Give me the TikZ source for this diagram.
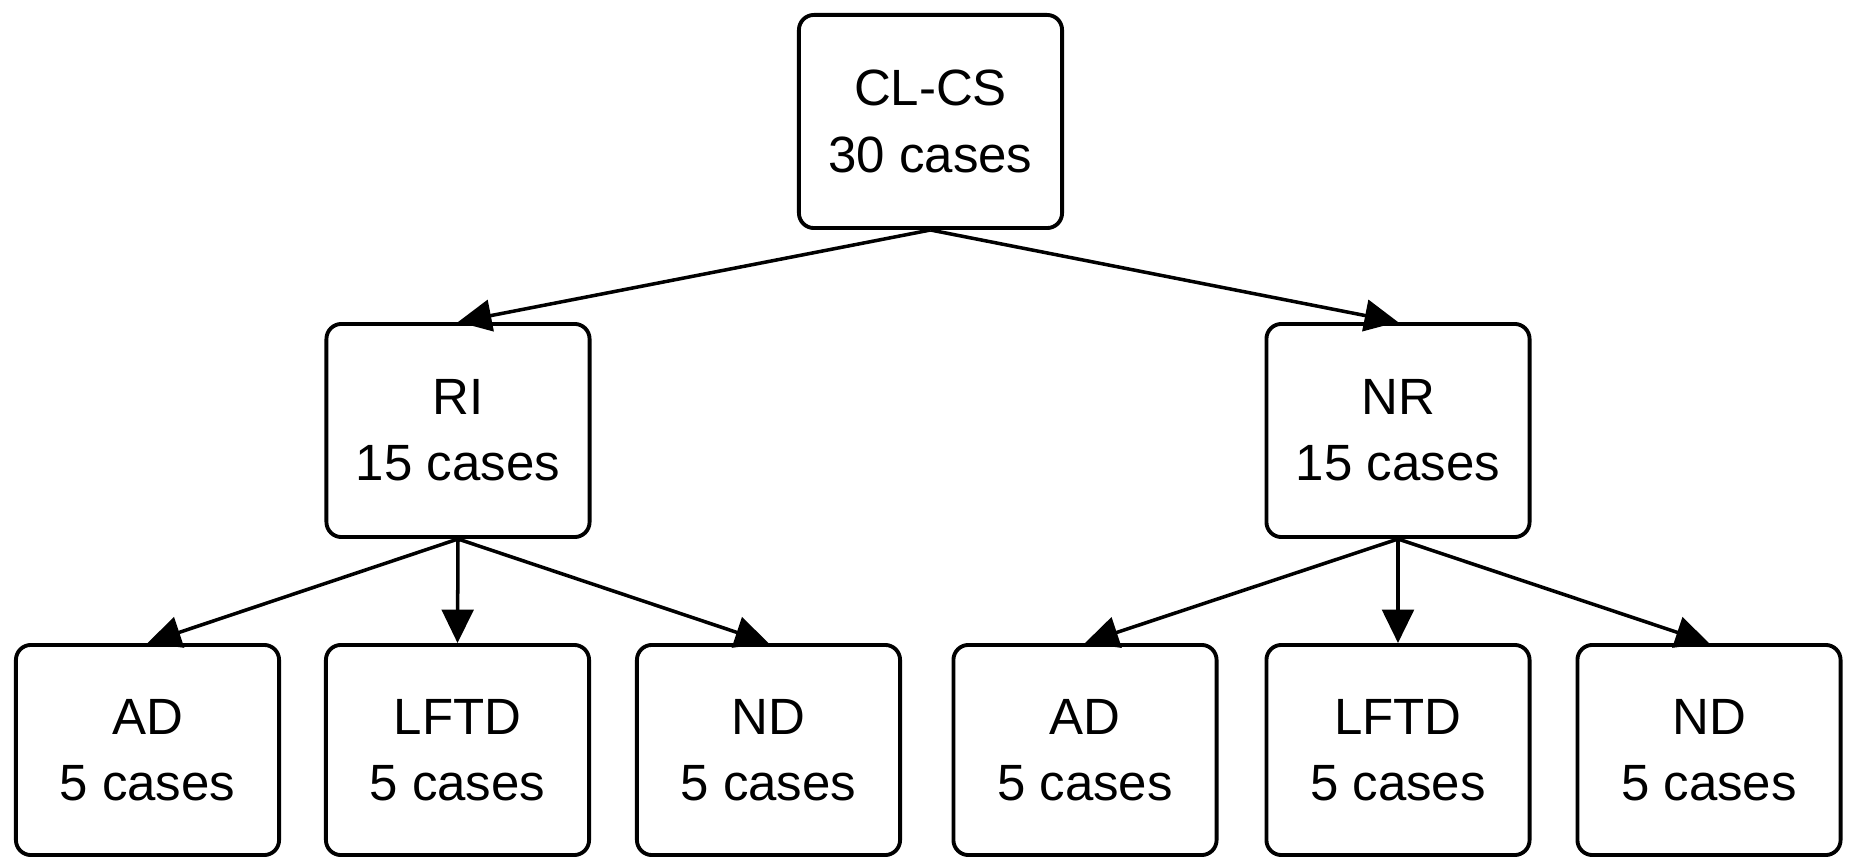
\documentclass[tikz,border=0pt]{standalone}
\usepackage{fontspec}
\setmainfont{Liberation Sans}
\usetikzlibrary{arrows.meta}
\begin{document}
\begin{tikzpicture}[x=0.01cm,y=-0.01cm,
  box/.style={draw=black, line width=1.1pt, rounded corners=0.15cm, align=center,
    minimum width=2.63cm, minimum height=2.13cm, inner sep=0pt,
    font=\fontsize{14.5}{18.8}\selectfont},
  lowbox/.style={box, minimum height=2.10cm},
  conn/.style={draw=black, line width=1pt, -{Triangle[length=9.5pt,width=9pt]}}]
\useasboundingbox (0,0) rectangle (1851,858);
\node[box] (top) at (930.5,121.5) {CL-CS\\30 cases};
\node[box] (ri) at (458,430.5) {RI\\15 cases};
\node[box] (nr) at (1398,430.5) {NR\\15 cases};
\node[lowbox] (ad1) at (147.5,750) {AD\\5 cases};
\node[lowbox] (lf1) at (457.5,750) {LFTD\\5 cases};
\node[lowbox] (nd1) at (768.5,750) {ND\\5 cases};
\node[lowbox] (ad2) at (1085,750) {AD\\5 cases};
\node[lowbox] (lf2) at (1398,750) {LFTD\\5 cases};
\node[lowbox] (nd2) at (1709,750) {ND\\5 cases};
\draw[conn] (top.south) -- (ri.north);
\draw[conn] (top.south) -- (nr.north);
\draw[conn] (ri.south) -- (ad1.north);
\draw[conn] (ri.south) -- (lf1.north);
\draw[conn] (ri.south) -- (nd1.north);
\draw[conn] (nr.south) -- (ad2.north);
\draw[conn] (nr.south) -- (lf2.north);
\draw[conn] (nr.south) -- (nd2.north);
\end{tikzpicture}
\end{document}
